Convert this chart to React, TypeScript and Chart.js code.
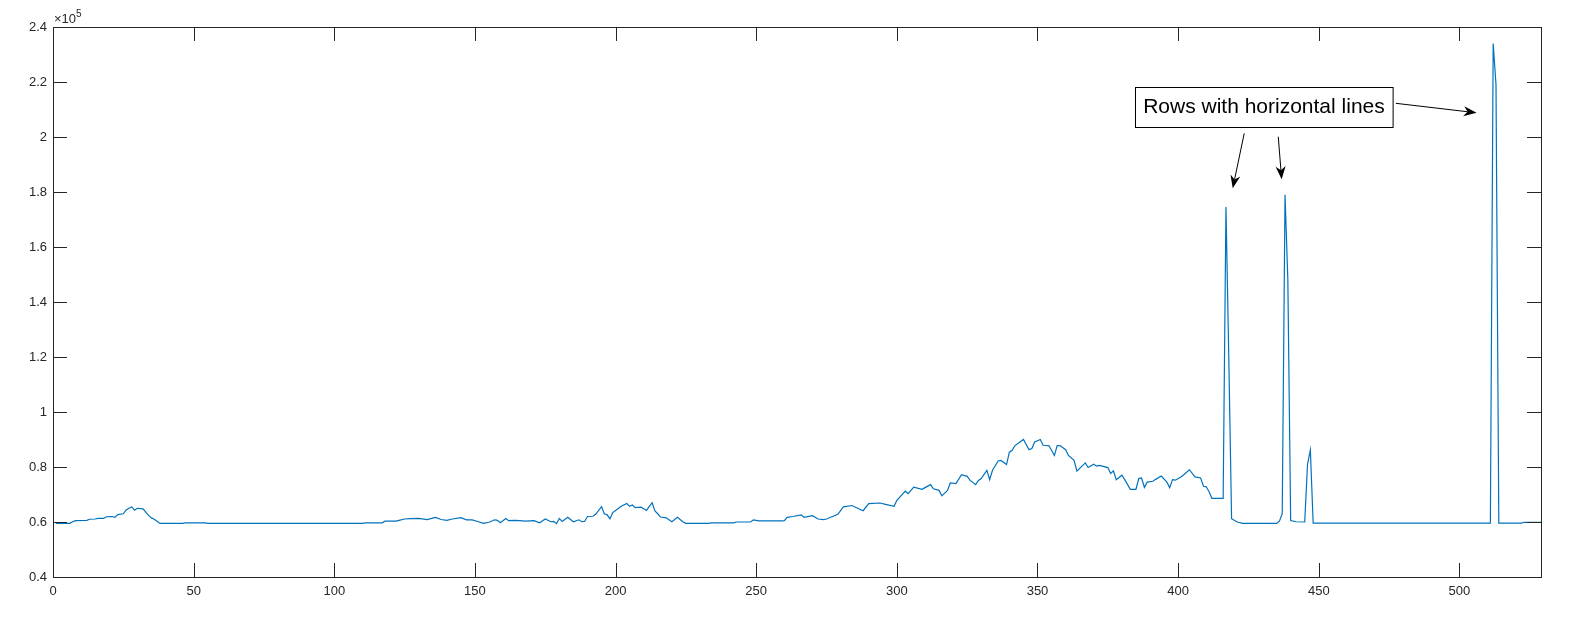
import React, { useEffect, useRef } from "react";
import { Chart, registerables } from "chart.js";

Chart.register(...registerables);

// Row index (x) and row sum (y), aligned in groups of ten
const rowIndex = [
  1, 6, 7, 8, 12, 13, 15, 16, 18, 19,
  21, 22, 23, 25, 26, 27, 28, 29, 30, 32,
  33, 34, 35, 36, 37, 38, 46, 47, 54, 55,
  110, 111, 117, 118, 122, 123, 125, 127, 130, 133,
  136, 138, 140, 142, 145, 147, 149, 151, 153, 155,
  157, 158, 159, 161, 162, 164, 166, 168, 171, 173,
  175, 177, 178, 179, 180, 181, 183, 185, 187, 188,
  189, 190, 192, 193, 195, 196, 197, 198, 199, 200,
  202, 204, 205, 206, 207, 209, 210, 211, 212, 213,
  214, 215, 216, 218, 220, 222, 224, 225, 233, 234,
  242, 243, 248, 249, 251, 259, 260, 261, 263, 266,
  267, 270, 272, 274, 275, 279, 281, 284, 288, 290,
  294, 296, 299, 300, 303, 304, 306, 309, 310, 312,
  313, 315, 316, 318, 319, 321, 323, 325, 326, 328,
  329, 330, 332, 333, 334, 336, 337, 339, 340, 341,
  342, 345, 347, 348, 349, 351, 352, 354, 355, 356,
  357, 358, 360, 361, 363, 364, 367, 368, 370, 371,
  372, 375, 376, 377, 378, 380, 381, 383, 385, 386,
  387, 388, 389, 391, 392, 394, 396, 397, 398, 399,
  401, 402, 404, 406, 408, 409, 410, 411, 412, 416,
  417, 418, 419, 421, 423, 435, 436, 437, 438, 439,
  440, 442, 445, 446, 447, 448, 511, 512, 513, 514,
  522, 523, 529,
];

const rowSum = [
  59500, 59500, 60100, 60500, 60600, 61000, 61100, 61300, 61300, 61900,
  62000, 61700, 62700, 63000, 64400, 65000, 65500, 64300, 65000, 64800,
  63600, 62400, 61500, 61000, 60300, 59500, 59500, 59700, 59700, 59500,
  59500, 59700, 59700, 60300, 60300, 60600, 61100, 61200, 61300, 60900,
  61700, 60900, 60600, 61100, 61600, 60800, 60800, 60200, 59500, 59900,
  60800, 60600, 59700, 61300, 60500, 60600, 60500, 60300, 60500, 59700,
  61100, 60100, 60200, 59400, 61300, 60200, 61700, 60100, 60800, 60100,
  60200, 62000, 62100, 62900, 65600, 63000, 62600, 61200, 63400, 64200,
  65700, 66700, 65700, 66200, 65200, 65400, 64800, 64200, 65700, 67000,
  64000, 63000, 61800, 61500, 60100, 61700, 60000, 59500, 59500, 59700,
  59700, 60000, 60000, 60800, 60400, 60400, 60500, 61700, 62000, 62600,
  61700, 62300, 61100, 60900, 61100, 62800, 65500, 66000, 64100, 66700,
  66900, 66400, 65700, 67900, 71200, 70300, 72700, 71900, 72500, 73600,
  72100, 71500, 69500, 71500, 74200, 74000, 77200, 76600, 75200, 73600,
  75100, 75800, 78800, 75400, 78800, 82200, 82400, 80900, 85400, 86100,
  87800, 90000, 86300, 86700, 89100, 90000, 87900, 87800, 86100, 84200,
  87800, 87800, 86300, 84200, 82400, 78500, 81500, 79800, 81000, 80300,
  80600, 79800, 77600, 78600, 75400, 77000, 75400, 71900, 71900, 75800,
  76000, 72600, 74500, 74800, 75500, 76700, 74500, 72500, 75400, 75200,
  76400, 77200, 79000, 76400, 76000, 73000, 72800, 71000, 68600, 68600,
  174500, 120000, 61200, 60000, 59500, 59500, 60300, 63000, 179000, 148000,
  60500, 60100, 60000, 81000, 86200, 59600, 59600, 234000, 219000, 59600,
  59600, 59900, 59900,
];

const xTicks = [0, 50, 100, 150, 200, 250, 300, 350, 400, 450, 500];
const yTicks = [40000, 60000, 80000, 100000, 120000, 140000, 160000, 180000, 200000, 220000, 240000];
const xMin = 0;
const xMax = 529;
const yMin = 40000;
const yMax = 240000;

// Annotation (data coordinates)
const noteText = "Rows with horizontal lines";
const noteCenter = [430.5, 210800];
const arrowTails = [
  [477.4, 212250],
  [423.5, 201350],
  [435.6, 200100],
];
const arrowTips = [
  [506.1, 208800],
  [419.4, 181350],
  [436.8, 184600],
];

const AXIS_COLOR = "#262626";
const LINE_COLOR = "#0072BD";
const FONT = "'Liberation Sans', Arial, Helvetica, sans-serif";
const TICK_LEN = 14;

const matlabAxes = {
  id: "matlabAxes",
  afterDraw(chart: any) {
    const { ctx, chartArea } = chart;
    const { left, right, top, bottom } = chartArea;
    const xs = chart.scales.x;
    const ys = chart.scales.y;
    ctx.save();
    ctx.strokeStyle = AXIS_COLOR;
    ctx.lineWidth = 1;
    ctx.beginPath();
    for (const v of xTicks) {
      const px = Math.round(xs.getPixelForValue(v)) + 0.5;
      ctx.moveTo(px, bottom);
      ctx.lineTo(px, bottom - TICK_LEN);
      ctx.moveTo(px, top);
      ctx.lineTo(px, top + TICK_LEN);
    }
    for (const v of yTicks) {
      const py = Math.round(ys.getPixelForValue(v)) + 0.5;
      ctx.moveTo(left, py);
      ctx.lineTo(left + TICK_LEN, py);
      ctx.moveTo(right, py);
      ctx.lineTo(right - TICK_LEN, py);
    }
    ctx.stroke();
    ctx.strokeRect(Math.round(left) + 0.5, Math.round(top) + 0.5, Math.round(right - left), Math.round(bottom - top));

    // exponent label
    ctx.fillStyle = AXIS_COLOR;
    ctx.textBaseline = "alphabetic";
    ctx.textAlign = "left";
    ctx.font = `13px ${FONT}`;
    const ex = left + 1;
    ctx.fillText("\u00d710", ex, top - 4);
    const w = ctx.measureText("\u00d710").width;
    ctx.font = `10px ${FONT}`;
    ctx.fillText("5", ex + w, top - 10);

    // annotation box
    ctx.font = `21px ${FONT}`;
    const cx = xs.getPixelForValue(noteCenter[0]);
    const cy = ys.getPixelForValue(noteCenter[1]);
    const tw = ctx.measureText(noteText).width;
    const bw = tw + 16;
    const bh = 40;
    const bx = Math.round(cx - bw / 2) + 0.5;
    const by = Math.round(cy - bh / 2) + 0.5;
    ctx.fillStyle = "#ffffff";
    ctx.fillRect(bx, by, bw, bh);
    ctx.strokeStyle = "#000000";
    ctx.strokeRect(bx, by, bw, bh);
    ctx.fillStyle = "#000000";
    ctx.textAlign = "center";
    ctx.textBaseline = "middle";
    ctx.fillText(noteText, cx, cy);

    // arrows
    for (let i = 0; i < arrowTails.length; i++) {
      const x0 = xs.getPixelForValue(arrowTails[i][0]);
      const y0 = ys.getPixelForValue(arrowTails[i][1]);
      const x1 = xs.getPixelForValue(arrowTips[i][0]);
      const y1 = ys.getPixelForValue(arrowTips[i][1]);
      const ang = Math.atan2(y1 - y0, x1 - x0);
      const L = 13;
      const W = 5;
      ctx.beginPath();
      ctx.moveTo(x0, y0);
      ctx.lineTo(x1 - Math.cos(ang) * L * 0.7, y1 - Math.sin(ang) * L * 0.7);
      ctx.lineWidth = 1;
      ctx.stroke();
      ctx.save();
      ctx.translate(x1, y1);
      ctx.rotate(ang);
      ctx.beginPath();
      ctx.moveTo(0, 0);
      ctx.lineTo(-L, -W);
      ctx.lineTo(-L * 0.7, 0);
      ctx.lineTo(-L, W);
      ctx.closePath();
      ctx.fill();
      ctx.restore();
    }
    ctx.restore();
  },
};

export default function App() {
  const ref = useRef<HTMLCanvasElement | null>(null);
  useEffect(() => {
    if (!ref.current) return;
    const points = rowIndex.map((x, i) => ({ x, y: rowSum[i] }));
    const chart = new Chart(ref.current, {
      type: "line",
      data: {
        datasets: [
          {
            data: points,
            borderColor: LINE_COLOR,
            borderWidth: 1.2,
            pointRadius: 0,
            tension: 0,
            fill: false,
          },
        ],
      },
      options: {
        animation: false,
        responsive: false,
        parsing: false as any,
        layout: { padding: { left: 0, right: 42, top: 27, bottom: 0 } },
        plugins: { legend: { display: false }, tooltip: { enabled: false } },
        scales: {
          x: {
            type: "linear",
            min: xMin,
            max: xMax,
            grid: { display: false, drawTicks: false, tickLength: 0 },
            border: { display: false },
            afterBuildTicks: (s: any) => {
              s.ticks = xTicks.map((v) => ({ value: v }));
            },
            afterFit: (s: any) => {
              s.height = 48;
            },
            ticks: {
              color: AXIS_COLOR,
              font: { family: FONT, size: 13 },
              padding: 7,
              maxRotation: 0,
              autoSkip: false,
              callback: (v: any) => String(v),
            },
          },
          y: {
            type: "linear",
            min: yMin,
            max: yMax,
            grid: { display: false, drawTicks: false, tickLength: 0 },
            border: { display: false },
            afterBuildTicks: (s: any) => {
              s.ticks = yTicks.map((v) => ({ value: v }));
            },
            afterFit: (s: any) => {
              s.width = 53;
            },
            ticks: {
              color: AXIS_COLOR,
              font: { family: FONT, size: 13 },
              padding: 6,
              autoSkip: false,
              callback: (v: any) => String(Number((Number(v) / 1e5).toFixed(1))),
            },
          },
        },
      },
      plugins: [matlabAxes],
    });
    return () => chart.destroy();
  }, []);
  return (
    <div style={{ position: "absolute", left: 0, top: 0, width: 1583, height: 625, background: "#fff" }}>
      <canvas ref={ref} width={1583} height={625} style={{ display: "block" }} />
    </div>
  );
}
